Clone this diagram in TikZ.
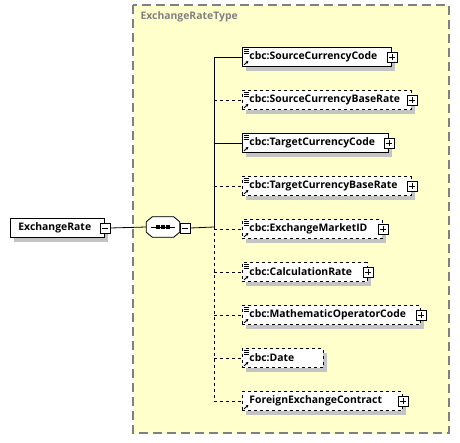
\documentclass[tikz,border=0pt]{standalone}
\usepackage{fontspec}
\setmainfont{Open Sans}
\usetikzlibrary{calc,shadows,arrows.meta}

\definecolor{typefill}{HTML}{FFFFCC}
\definecolor{typeline}{HTML}{808080}
\definecolor{shadowgray}{HTML}{C4C4C4}

\tikzset{
  elem/.style={draw, fill=white, line width=0.8pt, minimum height=19pt,
    inner xsep=0pt, inner ysep=0pt, align=left, anchor=west,
    font=\bfseries\fontsize{10.4}{12}\selectfont,
    drop shadow={shadow xshift=4pt, shadow yshift=-4pt, fill=shadowgray, opacity=1}},
  pmbox/.style={draw, fill=white, line width=0.6pt, minimum size=10pt, inner sep=0pt},
  conn/.style={line width=0.8pt}
}

\begin{document}
\begin{tikzpicture}[x=1pt,y=-1pt]
\useasboundingbox (0,0) rectangle (460,442);

% type box
\draw [typeline, fill=typefill, line width=1.2pt, dash pattern=on 9pt off 5pt] (133,5) rectangle (449,433);
\node [anchor=west, text=typeline, font=\bfseries\fontsize{10.4}{12}\selectfont] (ttl) at (137,17) {ExchangeRateType};

% root
\node [elem, text width=94pt] (root) at (10,228) {\hspace*{8pt}ExchangeRate};
\node [pmbox] (rootm) at (root.east) {};
\draw [line width=0.6pt] ($(rootm.center)+(-3,0)$) -- ($(rootm.center)+(3,0)$);

% sequence
\node [minimum width=33pt, minimum height=20pt, inner sep=0pt] (seq) at (163,227) {};
\foreach \s/\c/\d in {4/shadowgray/shadowgray,0/white/black}{
  \filldraw [shift={(\s,\s)}, fill=\c, draw=\d, line width=0.8pt]
    ($(seq.north west)+(6,0)$) -- ($(seq.north east)+(-6,0)$) -- ($(seq.north east)+(0,5)$)
    -- ($(seq.south east)+(0,-5)$) -- ($(seq.south east)+(-6,0)$) -- ($(seq.south west)+(6,0)$)
    -- ($(seq.south west)+(0,-5)$) -- ($(seq.north west)+(0,5)$) -- cycle;
}
\draw [line width=0.8pt] ($(seq.west)+(5,0)$) -- ($(seq.east)+(-5,0)$);
\foreach \k in {-5,0,5}{
  \fill ($(seq.center)+(\k,0)+(-1.6,-1.6)$) rectangle ($(seq.center)+(\k,0)+(1.6,1.6)$);
}
\node [pmbox] (seqm) at ($(seq.east)+(5.5,1)$) {};
\draw [line width=0.6pt] ($(seqm.center)+(-3,0)$) -- ($(seqm.center)+(3,0)$);

\draw [conn] (rootm.east) -- (seq.west);
\coordinate (fork) at (214,227);
\draw [conn] (seqm.east) -- (fork);

% children
\foreach \i/\lbl/\r/\dsh/\pl/\ic in {
  1/cbc:SourceCurrencyCode/391/solid/1/1,
  2/cbc:SourceCurrencyBaseRate/411/dashed/1/1,
  3/cbc:TargetCurrencyCode/388/solid/1/1,
  4/cbc:TargetCurrencyBaseRate/411/dashed/1/1,
  5/cbc:ExchangeMarketID/382/dashed/1/1,
  6/cbc:CalculationRate/367/dashed/1/1,
  7/cbc:MathematicOperatorCode/420/dashed/1/1,
  8/cbc:Date/323/dashed/0/1,
  9/ForeignExchangeContract/402/dashed/1/0}{
  \pgfmathsetmacro{\yy}{57+43*(\i-1)}
  \pgfmathsetmacro{\ww}{\r-242}
  \node [elem, \dsh, text width=\ww pt] (c\i) at (242,\yy) {\hspace*{7pt}\lbl};
  \draw [conn, \dsh] (c\i.west -| fork) -- (c\i.west);
  % reference arrow
  \draw [line width=0.9pt, -{Latex[length=2.5pt,width=3pt]}] ($(c\i.south west)+(2,-2)$) -- ($(c\i.south west)+(6.5,-6)$);
  \ifnum\ic=1
    \foreach \l in {2,4,6}{
      \draw [line width=0.6pt] ($(c\i.north west)+(2,\l)$) -- ($(c\i.north west)+(7,\l)$);
    }
  \fi
  \ifnum\pl=1
    \node [pmbox] (p\i) at (c\i.east) {};
    \draw [line width=0.6pt] ($(p\i.center)+(-3,0)$) -- ($(p\i.center)+(3,0)$);
    \draw [line width=0.6pt] ($(p\i.center)+(0,-3)$) -- ($(p\i.center)+(0,3)$);
  \fi
}

% spine
\draw [conn] (c1.west -| fork) -- (fork);
\draw [conn, dashed] (fork) -- (c9.west -| fork);
\end{tikzpicture}
\end{document}
